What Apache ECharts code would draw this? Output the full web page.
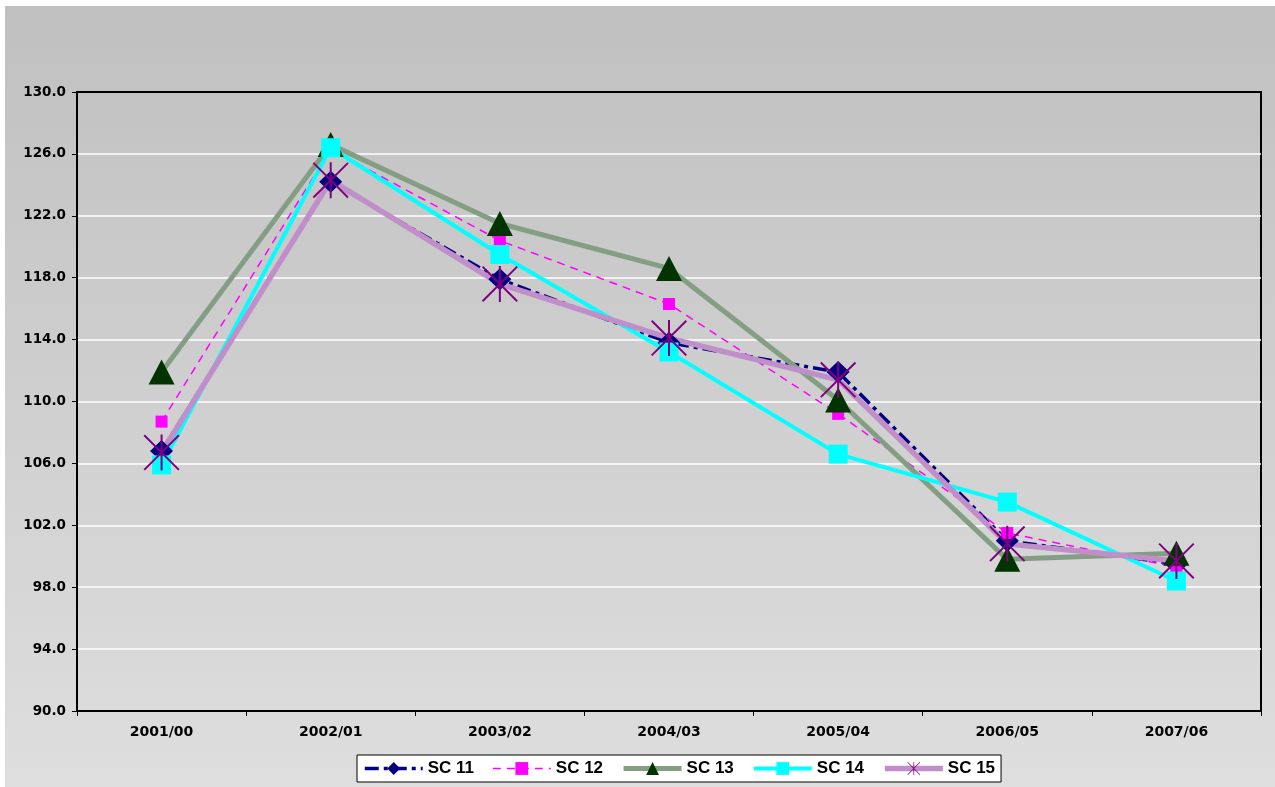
<!DOCTYPE html>
<html>
<head>
<meta charset="utf-8">
<script src="https://cdn.jsdelivr.net/npm/echarts@6/dist/echarts.min.js"></script>
<style>
  html, body { margin: 0; padding: 0; background: #ffffff; }
  #chart { position: absolute; left: 5px; top: 6px; width: 1270px; height: 781px; }
</style>
</head>
<body>
<div id="chart"></div>
<script>
// Season labels along the x axis
const categories = ['2001/00', '2002/01', '2003/02', '2004/03', '2005/04', '2006/05', '2007/06'];

// Index values per scenario
const sc11 = [106.8, 124.2, 117.9, 113.8, 111.9, 101.0, 99.5];
const sc12 = [108.7, 126.3, 120.4, 116.3, 109.2, 101.5, 99.3];
const sc13 = [111.9, 126.6, 121.5, 118.6, 110.1, 99.8, 100.2];
const sc14 = [105.9, 126.4, 119.5, 113.2, 106.6, 103.5, 98.4];
const sc15 = [106.7, 124.3, 117.6, 114.1, 111.4, 100.8, 99.7];

const seriesNames = ['SC 11', 'SC 12', 'SC 13', 'SC 14', 'SC 15'];
// Line thickness of each scenario, reused for the legend samples
const lineWidths = [3.5, 1.5, 5, 4, 5.5];

// Asterisk marker: one vertical bar plus two diagonals
const starPath = 'path://M17,0 L19,0 L19,36 L17,36 Z ' +
  'M0,1.4 L1.4,0 L36,34.6 L34.6,36 Z ' +
  'M34.6,0 L36,1.4 L1.4,36 L0,34.6 Z';

const chart = echarts.init(document.getElementById('chart'), null, { renderer: 'canvas' });

const axisFont = { color: '#000', fontWeight: 'bold', fontFamily: 'DejaVu Sans' };

chart.setOption({
  animation: false,
  backgroundColor: {
    type: 'linear', x: 0, y: 0, x2: 0, y2: 1,
    colorStops: [{ offset: 0, color: '#c0c0c0' }, { offset: 1, color: '#dedede' }]
  },
  grid: {
    left: 72, top: 86, right: 14, bottom: 76,
    show: true, borderColor: '#000', borderWidth: 2, backgroundColor: 'transparent'
  },
  legend: {
    data: seriesNames.map((n, i) => ({ name: n, lineStyle: { width: Math.max(lineWidths[i], 1.5) } })),
    left: 352, top: 749,
    orient: 'horizontal',
    itemWidth: 58, itemHeight: 16, itemGap: 18,
    backgroundColor: '#ffffff',
    borderColor: '#000', borderWidth: 1,
    borderRadius: 0,
    padding: [5, 6, 5, 6],
    textStyle: { color: '#000', fontWeight: 'bold', fontFamily: 'Liberation Sans', fontSize: 17 }
  },
  xAxis: {
    type: 'category',
    data: categories,
    boundaryGap: true,
    axisLine: { lineStyle: { color: '#000', width: 2 } },
    axisTick: { show: true, length: 5, lineStyle: { color: '#000', width: 1 } },
    axisLabel: Object.assign({ margin: 14, fontSize: 14 }, axisFont),
    splitLine: { show: false }
  },
  yAxis: {
    type: 'value',
    min: 90, max: 130, interval: 4,
    axisLine: { show: true, lineStyle: { color: '#000', width: 2 } },
    axisTick: { show: true, length: 5, lineStyle: { color: '#000', width: 1 } },
    axisLabel: Object.assign({ margin: 11, fontSize: 13.5, formatter: v => v.toFixed(1) }, axisFont),
    splitLine: { show: true, showMaxLine: false, showMinLine: false, lineStyle: { color: '#ffffff', width: 1.5 } }
  },
  series: [
    {
      name: 'SC 11', type: 'line', data: sc11,
      symbol: 'diamond', symbolSize: [23, 22],
      itemStyle: { color: '#000080' },
      lineStyle: { color: '#000080', width: lineWidths[0], type: [14, 5, 4, 5] }
    },
    {
      name: 'SC 12', type: 'line', data: sc12,
      symbol: 'rect', symbolSize: 12,
      itemStyle: { color: '#ff00ff' },
      lineStyle: { color: '#ff00ff', width: lineWidths[1], type: [8, 6] }
    },
    {
      name: 'SC 13', type: 'line', data: sc13,
      symbol: 'triangle', symbolSize: [26, 25],
      itemStyle: { color: '#003300' },
      lineStyle: { color: '#849e84', width: lineWidths[2] }
    },
    {
      name: 'SC 14', type: 'line', data: sc14,
      symbol: 'rect', symbolSize: 19,
      itemStyle: { color: '#00ffff' },
      lineStyle: { color: '#00ffff', width: lineWidths[3] }
    },
    {
      name: 'SC 15', type: 'line', data: sc15,
      symbol: starPath, symbolSize: 36,
      itemStyle: { color: '#800080' },
      lineStyle: { color: '#c08ec8', width: lineWidths[4] }
    }
  ]
});
</script>
</body>
</html>
